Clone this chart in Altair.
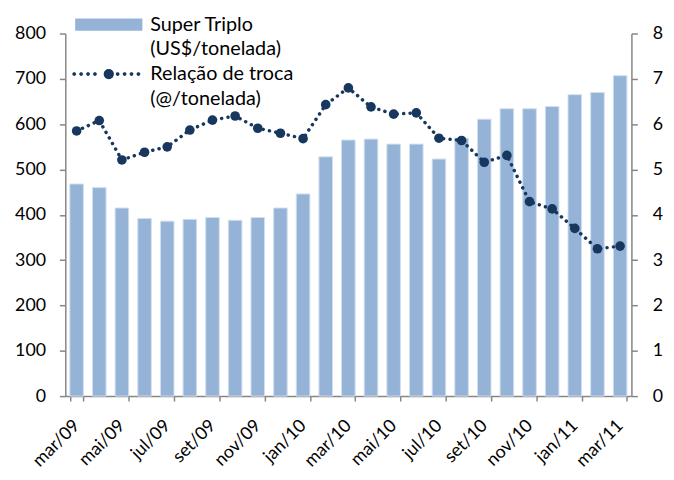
import math
import altair as alt
import pandas as pd

meses = ["mar/09", "abr/09", "mai/09", "jun/09", "jul/09", "ago/09", "set/09", "out/09",
         "nov/09", "dez/09", "jan/10", "fev/10", "mar/10", "abr/10", "mai/10", "jun/10",
         "jul/10", "ago/10", "set/10", "out/10", "nov/10", "dez/10", "jan/11", "fev/11", "mar/11"]
super_triplo = [468, 460, 415, 392, 386, 390, 394, 388, 394, 415, 446, 528, 565, 567, 556,
                556, 523, 569, 611, 634, 634, 639, 665, 670, 707]
relacao_troca = [5.85, 6.08, 5.21, 5.38, 5.50, 5.87, 6.09, 6.18, 5.91, 5.80, 5.68, 6.43, 6.80,
                 6.38, 6.22, 6.25, 5.69, 5.64, 5.16, 5.31, 4.29, 4.13, 3.70, 3.25, 3.31]
legenda = ["Super Triplo", "(US$/tonelada)", "Relação de troca", "(@/tonelada)"]
rotulos_x = meses[::2]
ticks_esq = [0, 100, 200, 300, 400, 500, 600, 700, 800]
ticks_dir = [0, 1, 2, 3, 4, 5, 6, 7, 8]

df = pd.DataFrame({"mes": meses, "super": super_triplo, "troca": relacao_troca})
df_leg = pd.DataFrame({"serie": legenda})

FONT = "Lato"
GREY = "#868686"
BAR = "#95B3D7"
NAVY = "#17375E"

# legend symbol geometry (units of 8 px, since symbolSize = 256)
U = 8.0


def circ(cx, cy, r, n=16):
    pts = [(cx + r * math.cos(2 * math.pi * k / n), cy + r * math.sin(2 * math.pi * k / n)) for k in range(n)]
    return "M" + "L".join(f"{x:.3f},{y:.3f}" for x, y in pts) + "Z"


rect_path = f"M{-34/U:.3f},{-6.3/U:.3f}H{34/U:.3f}V{6.3/U:.3f}H{-34/U:.3f}Z"
dot_px = [-35, -28, -21, -14, 9, 16, 23, 30]
dots_path = "".join(circ(d / U, 0, 1.9 / U) for d in dot_px) + circ(0, 0, 5.2 / U)
empty_path = "M0,0L0,0Z"

axis_common = dict(title=None, domainColor=GREY, tickColor=GREY, domainWidth=1.5, tickWidth=1.5,
                   labelFont=FONT, labelFontSize=18, labelColor="black", grid=False)

x = alt.X("mes:N", sort=meses, scale=alt.Scale(paddingInner=0.4, paddingOuter=0.2),
          axis=alt.Axis(values=rotulos_x, tickBand="extent", labelAngle=-45, labelAlign="right",
                        labelBaseline="middle", labelPadding=22, tickSize=5, **axis_common))

bars = alt.Chart(df).mark_bar(color=BAR, stroke="#D3DFEE", strokeWidth=1).encode(
    x=x,
    y=alt.Y("super:Q", scale=alt.Scale(domain=[0, 800], nice=False),
            axis=alt.Axis(orient="left", values=ticks_esq, tickSize=6, labelPadding=14, **axis_common)),
)

y_dir = alt.Y("troca:Q", scale=alt.Scale(domain=[0, 8], nice=False),
              axis=alt.Axis(orient="right", values=ticks_dir, tickSize=6, labelPadding=15, **axis_common))

line = alt.Chart(df).mark_line(color=NAVY, strokeWidth=3.5, strokeDash=[0.1, 6.4], strokeCap="round").encode(
    x=x, y=y_dir)
pts = alt.Chart(df).mark_point(filled=True, color=NAVY, size=95, opacity=1).encode(x=x, y=y_dir)

L = alt.Legend(title=None, orient="none", legendX=34, legendY=-19, symbolSize=256,
               symbolStrokeWidth=0, symbolOpacity=1, labelFont=FONT, labelFontSize=20,
               labelColor="black", labelOffset=32, rowPadding=5, labelLimit=400)

leg = alt.Chart(df_leg).mark_point(filled=True, opacity=0).encode(
    fill=alt.Fill("serie:N", scale=alt.Scale(domain=legenda, range=[BAR, "#ffffff", NAVY, "#ffffff"]), legend=L),
    shape=alt.Shape("serie:N", scale=alt.Scale(domain=legenda, range=[rect_path, empty_path, dots_path, empty_path]), legend=L),
)

chart = alt.layer(bars, alt.layer(line, pts), leg).resolve_scale(y="independent").properties(
    width=573, height=367,
    padding={"left": 58, "top": 23, "right": 35, "bottom": 74},
    autosize="none",
    background="white",
).configure_view(stroke=None)

chart.save("out.html", embed_options={"renderer": "svg", "actions": False})
